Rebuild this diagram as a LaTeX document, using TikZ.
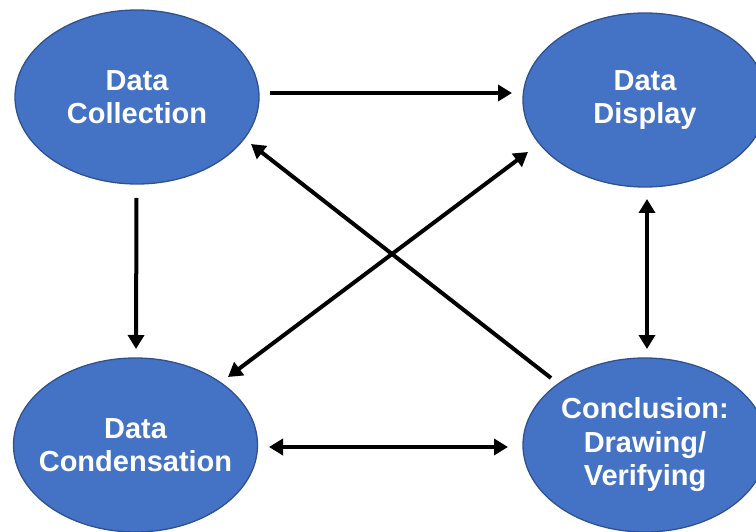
\documentclass[tikz,border=0pt]{standalone}
\usepackage{fontspec}
\setmainfont{Liberation Sans}
\usetikzlibrary{shapes.geometric,arrows.meta,calc}
\definecolor{fillblue}{HTML}{4472C4}
\definecolor{edgeblue}{HTML}{2F528F}
\tikzset{
  blob/.style={ellipse, fill=fillblue, draw=edgeblue, line width=1.3pt,
    minimum width=244pt, minimum height=174pt, inner sep=0pt},
  lbl/.style={text=white, align=center, inner sep=0pt,
    font=\fontsize{29}{33.5}\selectfont\bfseries},
  arr/.style={line width=4pt, draw=black, -{Triangle[length=14pt,width=16pt]}},
  darr/.style={line width=4pt, draw=black, {Triangle[length=14pt,width=16pt]}-{Triangle[length=14pt,width=16pt]}}
}
\begin{document}
\begin{tikzpicture}[x=1pt,y=-1pt]
\useasboundingbox (0,0) rectangle (756,532);
\node[blob] (c1) at (137,97) {};
\node[blob] (c2) at (645,100) {};
\node[blob] (c3) at (135.5,445) {};
\node[blob] (c4) at (645,445) {};
\node[lbl] (t1) at (c1) {Data\\Collection};
\node[lbl] (t2) at (c2) {Data\\Display};
\node[lbl] (t3) at (c3) {Data\\Condensation};
\node[lbl] (t4) at (c4) {Conclusion:\\Drawing/\\Verifying};
% connectors
\draw[arr] ($(c1)+(133,-4)$) -- ($(c2)+(-133,-7)$);
\draw[arr] ($(c1)+(-0.5,101)$) -- ($(c3)+(0.5,-96)$);
\draw[darr] ($(c2)+(2,99)$) -- ($(c4)+(2,-96)$);
\draw[darr] ($(c3)+(133.5,2)$) -- ($(c4)+(-137,2)$);
\draw[arr] ($(c4)+(-94,-67)$) -- ($(c1)+(114,47)$);
\draw[darr] ($(c3)+(92.5,-68)$) -- ($(c2)+(-117,52)$);
\end{tikzpicture}
\end{document}
